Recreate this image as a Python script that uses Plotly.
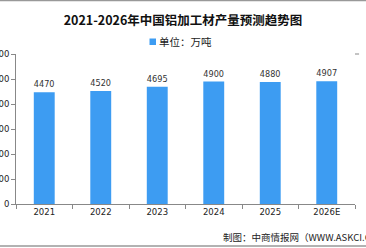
import plotly.graph_objects as go

years = ["2021", "2022", "2023", "2024", "2025", "2026E"]
output = [4470, 4520, 4695, 4900, 4880, 4907]
yticks = [0, 1000, 2000, 3000, 4000, 5000, 6000]
series_name = "单位：万吨"
bar_color = "#3d9cf2"

W, H = 366, 248
L, R, T, B = 16, 11, 54, 44
pw = W - L - R
ph = H - T - B

fig = go.Figure()
fig.add_trace(go.Bar(
    x=years, y=output, name=series_name, showlegend=False,
    marker=dict(color=bar_color, line=dict(width=0)),
    text=[str(v) for v in output], textposition="outside",
    textfont=dict(size=9, color="#333333", family="DejaVu Sans"),
    cliponaxis=False,
))

def px_y(py):
    return (H - B - py) / ph

def px_x(px):
    return (px - L) / pw

fig.update_layout(
    width=W, height=H,
    margin=dict(l=L, r=R, t=T, b=B, autoexpand=False),
    paper_bgcolor="white", plot_bgcolor="white",
    bargap=0.63,
    title=dict(text="<b>2021-2026年中国铝加工材产量预测趋势图</b>",
               x=0.5, xanchor="center", y=1 - 21 / H, yanchor="middle",
               font=dict(size=12.5, color="#111111", family="Noto Sans CJK SC")),
    showlegend=False,
    xaxis=dict(showline=True, linecolor="#888888", linewidth=1,
               ticks="outside", tickson="boundaries", ticklen=4, tickcolor="#888888",
               tickfont=dict(size=8.5, color="#222222", family="DejaVu Sans"),
               showgrid=False, automargin=False),
    yaxis=dict(range=[0, 6000], tickvals=yticks, showline=True, linecolor="#888888",
               linewidth=1, ticks="outside", ticklen=4, tickcolor="#888888",
               tickfont=dict(size=8.5, color="#222222", family="DejaVu Sans"),
               showgrid=False, zeroline=False, automargin=False),
    shapes=[
        dict(type="line", xref="paper", yref="paper", x0=px_x(0), x1=px_x(W),
             y0=px_y(0.5), y1=px_y(0.5), line=dict(color="#999999", width=1.5)),
        dict(type="line", xref="paper", yref="paper", x0=px_x(0), x1=px_x(W),
             y0=px_y(246), y1=px_y(246), line=dict(color="#999999", width=1.5)),
        dict(type="line", xref="paper", yref="paper", x0=1, x1=1.012,
             y0=1, y1=1, line=dict(color="#888888", width=1)),
        dict(type="rect", xref="paper", yref="paper", x0=px_x(149.5), x1=px_x(156),
             y0=px_y(45), y1=px_y(38.5), fillcolor=bar_color, line=dict(width=0)),
    ],
    annotations=[
        dict(text=series_name, xref="paper", yref="paper",
             x=px_x(157), y=px_y(41.7), xanchor="left", yanchor="middle", showarrow=False,
             font=dict(size=10.5, color="#222222", family="Noto Sans CJK SC")),
        dict(text="制图：中商情报网（WWW.ASKCI.COM）", xref="paper", yref="paper",
             x=px_x(221), y=px_y(237), xanchor="left", yanchor="middle",
             showarrow=False,
             font=dict(size=9.5, color="#222222", family="Noto Sans CJK SC")),
    ],
)
fig.write_html("out.html")
